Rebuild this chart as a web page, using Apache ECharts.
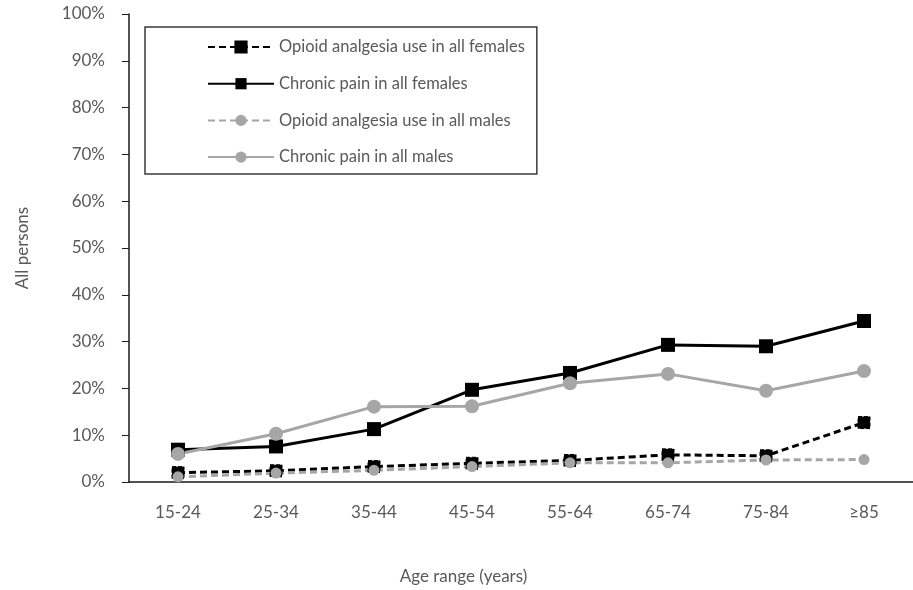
<!DOCTYPE html>
<html>
<head>
<meta charset="utf-8">
<script src="https://cdn.jsdelivr.net/npm/echarts@6/dist/echarts.min.js"></script>
<style>
  html, body { margin: 0; padding: 0; background: #fff; }
  #chart { width: 913px; height: 590px; }
</style>
</head>
<body>
<div id="chart"></div>
<script>
// age bands
var ageRanges = ["15-24", "25-34", "35-44", "45-54", "55-64", "65-74", "75-84", "≥85"];

// percentages
var opioidFemales = [2.0, 2.4, 3.3, 4.0, 4.6, 5.8, 5.6, 12.7];
var painFemales = [6.9, 7.6, 11.3, 19.7, 23.3, 29.3, 29.0, 34.4];
var opioidMales = [1.1, 1.9, 2.5, 3.3, 4.1, 4.1, 4.7, 4.8];
var painMales = [6.0, 10.3, 16.1, 16.2, 21.1, 23.1, 19.5, 23.7];

var yTicks = [0, 10, 20, 30, 40, 50, 60, 70, 80, 90, 100];

var seriesNames = [
  "Opioid analgesia use in all females",
  "Chronic pain in all females",
  "Opioid analgesia use in all males",
  "Chronic pain in all males"
];

var grey = "#a6a6a6";
var textCol = "#595959";
var font = "Lato";

var myChart = echarts.init(document.getElementById("chart"));

var option = {
  backgroundColor: "#fff",
  animation: false,
  textStyle: { fontFamily: font },
  grid: {
    left: 129,
    right: -12,
    top: 14,
    bottom: 108
  },
  legend: {
    orient: "vertical",
    left: 145,
    top: 27,
    padding: [10, 12, 7, 62],
    itemWidth: 66,
    itemHeight: 14,
    itemGap: 16.7,
    borderColor: "#3a3a3a",
    borderWidth: 1.5,
    textStyle: { color: textCol, fontSize: 16.5, lineHeight: 20, fontFamily: font },
    data: seriesNames
  },
  xAxis: {
    type: "category",
    data: ageRanges,
    boundaryGap: true,
    name: "Age range (years)",
    nameLocation: "middle",
    nameGap: 86,
    nameTextStyle: { color: textCol, fontSize: 17, padding: [0, 115, 0, 0] },
    axisLine: { lineStyle: { color: "#1a1a1a", width: 1.5 } },
    axisTick: { show: false },
    axisLabel: { color: textCol, fontSize: 17, margin: 22 },
    splitLine: { show: false }
  },
  yAxis: {
    type: "value",
    min: 0,
    max: 100,
    interval: 10,
    name: "All persons",
    nameLocation: "middle",
    nameGap: 98,
    nameTextStyle: { color: textCol, fontSize: 17 },
    axisLine: { show: true, lineStyle: { color: "#1a1a1a", width: 1.5 } },
    axisTick: { show: true, length: 7, lineStyle: { color: "#1a1a1a", width: 1 } },
    axisLabel: {
      color: textCol,
      fontSize: 17,
      margin: 24,
      formatter: function (v) { return yTicks.indexOf(v) >= 0 ? v + "%" : ""; }
    },
    splitLine: { show: false }
  },
  series: [
    {
      name: seriesNames[0],
      type: "line",
      data: opioidFemales,
      symbol: "rect",
      symbolSize: 12,
      itemStyle: { color: "#000", borderColor: "#000", borderType: "dashed", borderWidth: 1 },
      lineStyle: { color: "#000", width: 3, type: [7, 4] }
    },
    {
      name: seriesNames[1],
      type: "line",
      data: painFemales,
      symbol: "rect",
      symbolSize: 14,
      itemStyle: { color: "#000" },
      lineStyle: { color: "#000", width: 3 }
    },
    {
      name: seriesNames[2],
      type: "line",
      data: opioidMales,
      symbol: "circle",
      symbolSize: 11,
      itemStyle: { color: grey },
      lineStyle: { color: grey, width: 3, type: [7, 4] }
    },
    {
      name: seriesNames[3],
      type: "line",
      data: painMales,
      symbol: "circle",
      symbolSize: 14,
      itemStyle: { color: grey },
      lineStyle: { color: grey, width: 3 }
    }
  ]
};

myChart.setOption(option);
</script>
</body>
</html>
